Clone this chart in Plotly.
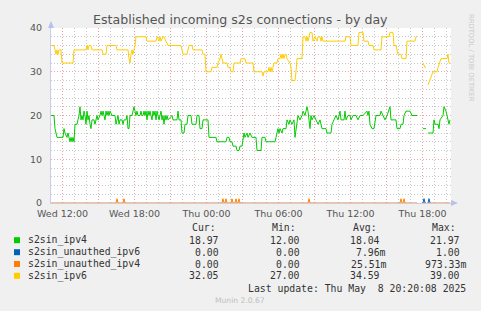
import plotly.graph_objects as go
import pandas as pd

# ---------------- data (5-minute samples since T0) ----------------
T0 = pd.Timestamp("2025-05-07 11:02:30")
STEP_MIN = 5
N_SAMPLES = 400

ipv4_samples = [(0,20),(3,20),(4,17),(5,16),(6,15),(12,15),(13,17),(14,16),(16,15),(17,16),(18,15),(19,14),(20,15),
    (21,14),(22,15),(23,14),(24,18),(26,18),(27,19),(28,20),(29,22),(30,19),(31,20),(32,19),(33,21),(34,20),(35,18),
    (36,21),(37,19),(38,20),(39,18),(40,17),(41,19),(43,19),(44,18),(45,19),(46,20),(47,19),(49,20),(50,21),(51,20),
    (52,21),(53,20),(54,19),(55,21),(56,20),(57,21),(58,20),(59,21),(61,20),(64,20),(65,18),(66,19),(67,20),(68,18),
    (69,19),(71,19),(72,18),(73,19),(75,19),(76,20),(77,17),(78,17),(79,20),(81,20),(82,21),(83,22),(84,21),(85,20),
    (86,21),(87,20),(89,20),(90,21),(91,20),(92,20),(93,21),(94,20),(95,21),(96,19),(97,21),(98,20),(99,21),(100,20),
    (101,19),(102,21),(103,20),(104,21),(105,19),(106,21),(107,20),(108,19),(109,20),(110,21),(111,19),(112,20),
    (113,18),(114,20),(115,19),(116,20),(117,19),(121,20),(122,19),(126,19),(127,21),(128,19),(130,19),(131,16),
    (133,16),(134,18),(136,18),(137,20),(140,20),(141,18),(145,18),(146,20),(148,20),(149,17),(151,17),(152,19),
    (157,19),(158,15),(165,15),(166,14),(175,14),(176,15),(178,15),(179,14),(181,14),(182,13),(185,13),(186,12),
    (188,12),(189,13),(191,13),(192,15),(193,16),(194,15),(196,16),(197,15),(199,16),(201,15),(205,15),(206,12),
    (210,12),(211,15),(214,15),(215,14),(222,14),(224,14),(225,15),(226,16),(227,17),(228,16),(229,17),(231,16),
    (232,17),(235,17),(236,19),(238,18),(239,19),(241,18),(243,19),(244,15),(246,19),(247,20),(249,19),(251,20),
    (252,21),(254,20),(255,21),(256,22),(257,21),(259,17),(260,20),(261,19),(263,20),(265,19),(267,18),(269,19),
    (271,17),(275,17),(276,16),(280,16),(281,18),(283,19),(285,20),(287,19),(289,21),(290,19),(293,19),(294,21),
    (295,19),(297,20),(299,20),(300,19),(302,20),(305,20),(307,19),(309,20),(312,20),(316,21),(317,20),(318,21),
    (319,18),(321,17),(323,17),(325,20),(329,20),(330,21),(332,20),(334,19),(336,20),(339,22),(340,19),(345,19),
    (346,17),(349,17),(350,18),(352,18),(353,20),(355,21),(359,21),(361,20),(366,20),(369,None),(372,17),(375,17),
    (376,None),(377,16),(382,16),(383,19),(384,18),(387,18),(388,17),(389,19),(392,20),(393,22),(395,21),(396,20),
    (398,18),(399,19)]

unauthed_ipv6_samples = [(372,0),(373,1),(374,0),(375,0),(376,None),(377,0),(378,1),(379,0)]

unauthed_ipv4_samples = [(0,0),(65,0),(66,0.97),(67,0),(72,0),(73,0.97),(74,0),(171,0),(172,0.97),(173,0),(174,0),
    (175,0.97),(176,0),(180,0),(181,0.97),(182,0),(184,0),(185,0.97),(186,0),(187,0),(188,0.97),(189,0),(257,0),
    (258,0.97),(259,0),(349,0),(350,0.97),(351,0),(352,0),(353,0.97),(354,0),(366,0),(369,None),(372,0),(375,0),
    (376,None),(377,0),(399,0)]

ipv6_samples = [(0,36),(3,36),(4,35),(5,34),(6,35),(7,34),(8,35),(10,35),(11,32),(22,32),(23,35),(35,35),(36,36),
    (37,35),(38,36),(40,36),(41,35),(51,35),(52,34),(55,34),(56,36),(65,36),(66,35),(77,35),(78,33),(79,32),(80,34),
    (81,35),(82,34),(83,35),(84,36),(85,38),(95,38),(96,37),(105,37),(106,38),(108,37),(109,38),(110,37),(112,38),
    (113,38),(115,37),(117,36),(130,36),(131,35),(132,34),(136,34),(137,35),(138,36),(141,36),(142,35),(151,35),
    (152,34),(154,34),(155,30),(160,30),(161,31),(166,31),(167,32),(169,33),(170,34),(171,33),(172,32),(176,32),
    (177,31),(179,31),(180,30),(182,30),(183,32),(189,32),(190,33),(194,33),(195,32),(202,32),(203,30),(211,30),
    (212,29),(213,30),(217,30),(218,31),(219,30),(220,31),(221,30),(222,31),(223,32),(226,32),(227,33),(229,33),
    (230,34),(231,33),(232,34),(233,33),(234,34),(235,34),(236,33),(239,32),(240,31),(241,28),(244,28),(245,30),
    (246,33),(251,33),(252,38),(254,38),(255,37),(256,38),(257,37),(258,38),(259,39),(261,39),(262,37),(264,38),
    (266,37),(267,38),(269,38),(270,37),(271,38),(272,37),(294,37),(295,38),(299,38),(300,36),(307,36),(308,39),
    (312,39),(313,37),(317,37),(318,36),(322,36),(323,35),(330,35),(331,38),(338,38),(339,39),(342,39),(343,36),
    (345,36),(346,35),(347,34),(350,34),(351,33),(355,33),(356,37),(364,37),(365,38),(366,38),(369,None),(372,32),
    (374,31),(375,31),(376,None),(377,27),(380,29),(382,30),(386,30),(387,31),(390,33),(396,33),(397,34),(398,32),
    (399,32)]

series_names = ["s2sin_ipv4", "s2sin_unauthed_ipv6", "s2sin_unauthed_ipv4", "s2sin_ipv6"]
series_colors = ["#00CC00", "#0066B3", "#FF8000", "#FFCC00"]
series_data = [ipv4_samples, unauthed_ipv6_samples, unauthed_ipv4_samples, ipv6_samples]

stat_cur = ["18.97", "0.00", "0.00", "32.05"]
stat_min = ["12.00", "0.00", "0.00", "27.00"]
stat_avg = ["18.04", "7.96m", "25.51m", "34.59"]
stat_max = ["21.97", "1.00", "973.33m", "39.00"]

tick_times = ["2025-05-07 12:00", "2025-05-07 15:00", "2025-05-07 18:00", "2025-05-07 21:00",
              "2025-05-08 00:00", "2025-05-08 03:00", "2025-05-08 06:00", "2025-05-08 09:00",
              "2025-05-08 12:00", "2025-05-08 15:00", "2025-05-08 18:00"]
tick_labels = ["Wed 12:00", "", "Wed 18:00", "", "Thu 00:00", "", "Thu 06:00", "", "Thu 12:00", "", "Thu 18:00"]

# ---------------- layout geometry ----------------
W, H = 481, 311
L, R, T, B = 51, 451, 28, 203


def px_x(px):
    return (px - L) / (R - L)


def px_y(py):
    return (B - py) / (B - T)


def to_time(i):
    return T0 + pd.Timedelta(minutes=STEP_MIN * i)


fig = go.Figure()
for name, color, data in zip(series_names, series_colors, series_data):
    xs = [to_time(i) for i, _ in data]
    ys = [v for _, v in data]
    fig.add_trace(go.Scatter(x=xs, y=ys, mode="lines", name=name,
                             line=dict(color=color, width=1), connectgaps=False,
                             hoverinfo="skip"))

axis_font = dict(family="DejaVu Sans", size=9.5, color="#555555")
major_grid = "rgba(235,150,150,0.85)"
minor_grid = "rgba(195,195,195,0.9)"

fig.update_layout(
    width=W, height=H,
    margin=dict(l=L, r=W - R, t=T, b=H - B),
    paper_bgcolor="#F0F0F0", plot_bgcolor="#FFFFFF",
    showlegend=False,
    xaxis=dict(type="date", range=[to_time(0), to_time(N_SAMPLES)],
               tickvals=tick_times, ticktext=tick_labels, tickfont=axis_font,
               showgrid=True, gridcolor=major_grid, griddash="1px,2px", gridwidth=1,
               minor=dict(dtick=3600000, tick0="2025-05-07 12:00", showgrid=True,
                          gridcolor=minor_grid, griddash="1px,2px", gridwidth=1),
               showline=True, linecolor="#C8CCEE", linewidth=1,
               ticks="", ticklabelstandoff=2, zeroline=False, fixedrange=True),
    yaxis=dict(range=[0, 40], dtick=10, tick0=0, tickfont=axis_font,
               showgrid=True, gridcolor=major_grid, griddash="1px,2px", gridwidth=1,
               minor=dict(dtick=2, showgrid=True, gridcolor=minor_grid, griddash="1px,2px", gridwidth=1),
               showline=True, linecolor="#C8CCEE", linewidth=1,
               ticks="", ticklabelstandoff=6, zeroline=False, fixedrange=True),
)

shapes = []
# axis arrows
shapes.append(dict(type="path", xref="paper", yref="paper",
                   path=f"M {px_x(48)} {px_y(28)} L {px_x(54)} {px_y(28)} L {px_x(51)} {px_y(21)} Z",
                   fillcolor="#B8C0EC", line=dict(width=0)))
shapes.append(dict(type="path", xref="paper", yref="paper",
                   path=f"M {px_x(451)} {px_y(200)} L {px_x(451)} {px_y(206)} L {px_x(458)} {px_y(203)} Z",
                   fillcolor="#B8C0EC", line=dict(width=0)))

row_y = [240.2, 252.2, 264.0, 275.8]
for yc, color in zip(row_y, series_colors):
    shapes.append(dict(type="rect", xref="paper", yref="paper",
                       x0=px_x(14), x1=px_x(20), y0=px_y(yc + 3), y1=px_y(yc - 3),
                       fillcolor=color, line=dict(width=0)))
fig.update_layout(shapes=shapes)

mono = dict(family="DejaVu Sans Mono", size=9.8, color="#333333")
ann = []


def add_text(text, x, y, xanchor="left", font=mono, **kw):
    ann.append(dict(text=text, x=px_x(x), y=px_y(y), xref="paper", yref="paper",
                    xanchor=xanchor, yanchor="middle", showarrow=False, font=font,
                    borderpad=0, **kw))


add_text("Established incoming s2s connections - by day", 240.3, 19.5, xanchor="center",
         font=dict(family="DejaVu Sans", size=12.6, color="#555555"))
add_text("RRDTOOL / TOBI OETIKER", 471, 58, xanchor="center",
         font=dict(family="DejaVu Sans", size=6.8, color="#C8C8C8"), textangle=90)

header_x = [190.7, 270.7, 351.7, 430.7]
for hdr, hx in zip(["Cur:", "Min:", "Avg:", "Max:"], header_x):
    add_text(hdr, hx, 227.5)

col_end = [220.2, 300.7, 380.7, 460.7]
char_w = 5.93
for yc, name, cur, mn, av, mx in zip(row_y, series_names, stat_cur, stat_min, stat_avg, stat_max):
    add_text(name, 26.7, yc)
    for val, ce in zip([cur, mn, av, mx], col_end):
        end = ce + (char_w if val.endswith("m") else 0)
        add_text(val, end, yc, xanchor="right")

add_text("Last update: Thu May\u00a0\u00a08 20:20:08 2025", 466.6, 288, xanchor="right")
add_text("Munin 2.0.67", 240, 300, xanchor="center",
         font=dict(family="DejaVu Sans", size=7.6, color="#C0C0C0"))

fig.update_layout(annotations=ann)
fig.write_html("out.html")
